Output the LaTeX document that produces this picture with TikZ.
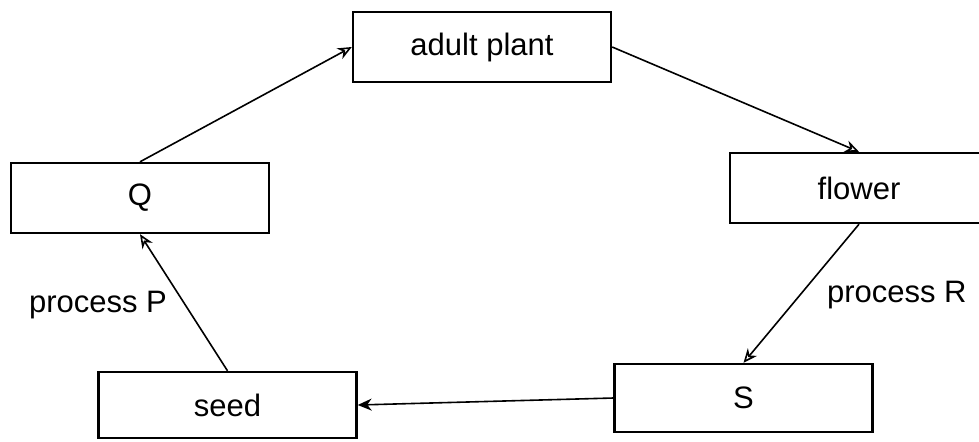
\documentclass[tikz,border=0pt]{standalone}
\usepackage{fontspec}
\setmainfont{Liberation Sans}
\usetikzlibrary{arrows.meta}
\tikzset{
  stage/.style = {draw, line width = 1.2pt, minimum width = 129pt,
                  minimum height = 35pt, inner sep = 0pt,
                  font = \fontsize{15.5}{18}\selectfont},
  link/.style  = {line width = 0.8pt, -{Stealth[length = 7pt, width = 6pt, open]}},
  note/.style  = {font = \fontsize{15.5}{18}\selectfont}
}
\begin{document}
\begin{tikzpicture}[x = 0.5pt, y = -0.5pt]
  \useasboundingbox (0, 0) rectangle (979, 441);
  \node[stage] (adult)  at (482, 47)    {adult plant};
  \node[stage] (flower) at (859, 188)   {flower};
  \node[stage] (Q)      at (140, 198)   {Q};
  \node[stage, minimum height = 33pt] (seed) at (227.5, 405) {seed};
  \node[stage, minimum height = 34pt] (S)    at (743.5, 398) {S};
  \draw[link] (Q.north) -- (adult.west);
  \draw[link] (adult.east) -- (flower.north);
  \draw[link] (flower.south) -- (S.north);
  \draw[link, -{Stealth[length = 7pt, width = 6pt]}] (S.west) -- (seed.east);
  \draw[link] (seed.north) -- (Q.south);
  \node[note, anchor = west] (procR) at (820, 295) {process R};
  \node[note, anchor = west] (procP) at (22, 305)  {process P};
\end{tikzpicture}
\end{document}
